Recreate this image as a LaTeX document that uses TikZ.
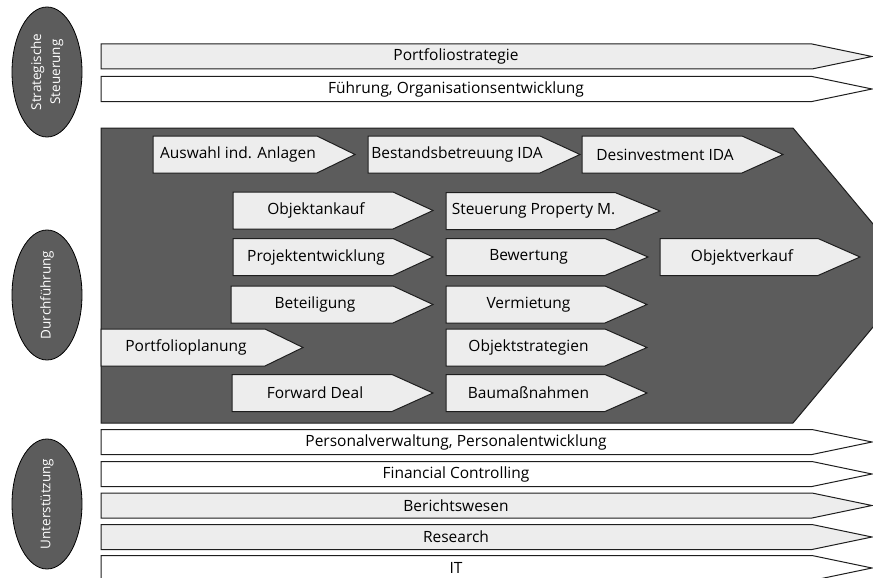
\documentclass[tikz,border=0pt]{standalone}
\usepackage{fontspec}
\setmainfont{Open Sans}
\usetikzlibrary{shapes.geometric}

\definecolor{darkfill}{HTML}{5C5C5C}
\definecolor{lightfill}{HTML}{EDEDED}
\definecolor{edge}{HTML}{1E1E1E}

\tikzset{
  chevbox/.style={draw=edge, line width=1pt, fill=lightfill},
  barbox/.style={draw=edge, line width=1pt},
  lbl/.style={font=\fontsize{15.5}{18}\selectfont, inner sep=0pt},
  phase/.style={ellipse, draw=black, line width=0.8pt, fill=darkfill, text=white,
    minimum width=130pt, minimum height=70pt, inner sep=0pt, rotate=90,
    align=center, font=\fontsize{13.5}{19}\selectfont},
}

\begin{document}
\begin{tikzpicture}[x=1pt, y=-1pt]
    \useasboundingbox (0,0) rectangle (873,578);

    % phases
    \node (ph_strat) [phase] at (47,72) {Strategische\\Steuerung};
    \node (ph_durch) [phase] at (47,295) {Durchführung};
    \node (ph_unter) [phase] at (47,504) {Unterstützung};

    % long bars
    \foreach \nm/\yc/\col/\txt in {b_port/56.5/lightfill/Portfoliostrategie,
        b_fuehr/89/white/{Führung, Organisationsentwicklung},
        b_pers/442/white/{Personalverwaltung, Personalentwicklung},
        b_fin/474/white/Financial Controlling,
        b_ber/505.5/lightfill/Berichtswesen,
        b_res/537/lightfill/Research,
        b_it/568/white/IT}{
      \draw[barbox, fill=\col] (101,\yc-12.5) -- (812,\yc-12.5) -- (872,\yc)
          -- (812,\yc+12.5) -- (101,\yc+12.5) -- cycle;
      \node (\nm) [lbl] at (456,\yc) {\txt};
    }

    % execution block
    \draw[draw=edge, line width=1pt, fill=darkfill]
        (101,128) -- (793,128) -- (916,275.5) -- (793,423) -- (101,423) -- cycle;

    \foreach \nm/\xl/\xb/\xt/\yc/\txt in {c_ausw/153/317/355/154.5/Auswahl ind. Anlagen,
        c_best/368/540/580/154.5/Bestandsbetreuung IDA,
        c_desi/582/742/783/154.5/Desinvestment IDA,
        c_ankf/233/393/433/210.5/Objektankauf,
        c_steu/446/615/660/211/Steuerung Property M.,
        c_proj/233/393/433/257/Projektentwicklung,
        c_bew/446/605/648/257/Bewertung,
        c_verk/660/818/860/257/Objektverkauf,
        c_bet/231/393/433/304.5/Beteiligung,
        c_verm/446/605/647/304.5/Vermietung,
        c_plan/101/265/303/347.5/Portfolioplanung,
        c_strat/446/605/647/347.5/Objektstrategien,
        c_fwd/232/392/433/393/Forward Deal,
        c_bau/446/605/647/393/Baumaßnahmen}{
      \draw[chevbox] (\xl,\yc-18.5) -- (\xb,\yc-18.5) -- (\xt,\yc)
          -- (\xb,\yc+18.5) -- (\xl,\yc+18.5) -- cycle;
      \node (\nm) [lbl] at ({(\xl+\xb)/2+3},\yc) {\txt};
    }
\end{tikzpicture}
\end{document}
